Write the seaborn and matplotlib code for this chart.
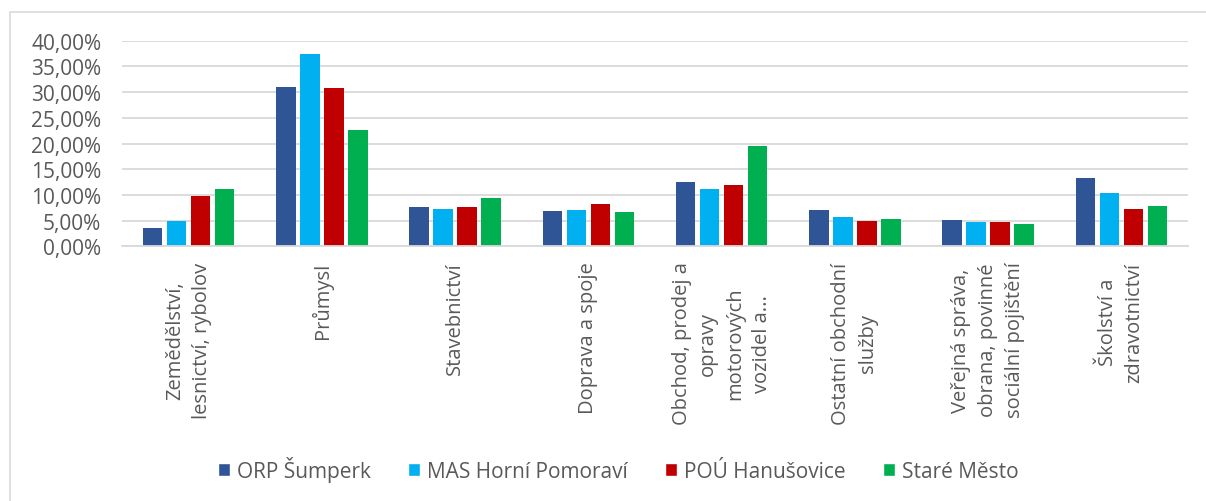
import matplotlib
matplotlib.use("Agg")
import matplotlib.pyplot as plt
import seaborn as sns
import pandas as pd
from matplotlib.patches import Rectangle
from matplotlib.ticker import FuncFormatter

categories = [
    "Zemědělství,\nlesnictví, rybolov",
    "Průmysl",
    "Stavebnictví",
    "Doprava a spoje",
    "Obchod, prodej a\nopravy\nmotorových\nvozidel a...",
    "Ostatní obchodní\nslužby",
    "Veřejná správa,\nobrana, povinné\nsociální pojištění",
    "Školství a\nzdravotnictví",
]
series_names = ["ORP Šumperk", "MAS Horní Pomoraví", "POÚ Hanušovice", "Staré Město"]
orp_sumperk = [3.57, 30.9, 7.72, 6.94, 12.45, 7.13, 5.06, 13.2]
mas_horni_pomoravi = [4.93, 37.4, 7.33, 7.13, 11.2, 5.77, 4.67, 10.37]
pou_hanusovice = [9.73, 30.8, 7.65, 8.17, 11.93, 5.0, 4.73, 7.2]
stare_mesto = [11.15, 22.6, 9.4, 6.6, 19.45, 5.25, 4.28, 7.78]
colors = ["#2F5597", "#00B0F0", "#C00000", "#00B050"]

rows = []
for name, vals in zip(series_names, [orp_sumperk, mas_horni_pomoravi, pou_hanusovice, stare_mesto]):
    for c, v in zip(categories, vals):
        rows.append({"cat": c, "series": name, "value": v})
df = pd.DataFrame(rows)

sns.set_theme(style="white")
plt.rcParams["font.family"] = ["Open Sans", "DejaVu Sans"]

W, H = 1206, 502
fig = plt.figure(figsize=(W / 100, H / 100), dpi=100)
ax = fig.add_axes([122 / W, 1 - 247.3 / H, (1188 - 122) / W, (247.3 - 41.7) / H])

sns.barplot(data=df, x="cat", y="value", hue="series", palette=colors,
            width=0.72, ax=ax, saturation=1, legend=True)

# narrow bars to leave small gaps within groups
for p in ax.patches:
    w = p.get_width()
    if w > 0:
        nw = w * 0.81
        p.set_x(p.get_x() + (w - nw) / 2)
        p.set_width(nw)
        p.set_linewidth(0)

ax.set_ylim(0, 40)
ax.set_yticks([0, 5, 10, 15, 20, 25, 30, 35, 40])
ax.yaxis.set_major_formatter(FuncFormatter(lambda v, _: f"{v:.2f}".replace(".", ",") + "%"))
ax.grid(axis="y", color="#D9D9D9", linewidth=1.3)
ax.set_axisbelow(True)
for s in ["top", "right", "left"]:
    ax.spines[s].set_visible(False)
ax.spines["bottom"].set_color("#D9D9D9")
ax.spines["bottom"].set_linewidth(1.3)
ax.set_xlabel("")
ax.set_ylabel("")
ax.set_xlim(-0.5, 7.5)
ax.tick_params(axis="y", labelsize=15, colors="#595959", length=0, pad=15)
ax.tick_params(axis="x", labelsize=14.5, colors="#595959", length=0, pad=11)
for lbl in ax.get_xticklabels():
    lbl.set_rotation(90)
    lbl.set_multialignment("center")
    lbl.set_linespacing(1.45)

handles, labels = ax.get_legend_handles_labels()
ax.legend_.remove()
fig.legend(handles, labels, loc="center", bbox_to_anchor=(618 / W, 1 - 470 / H),
           ncol=4, frameon=False, fontsize=15, handlelength=0.6, handleheight=0.6,
           handletextpad=0.3, columnspacing=1.8, labelcolor="#595959")

# chart frame (only left and top edges visible)
fig.patches.append(Rectangle((10 / W, -0.1), 1.2, 1 - 12.5 / H + 0.1, transform=fig.transFigure,
                             fill=False, edgecolor="#D9D9D9", linewidth=1.2))

fig.savefig("out.png", dpi=100)
